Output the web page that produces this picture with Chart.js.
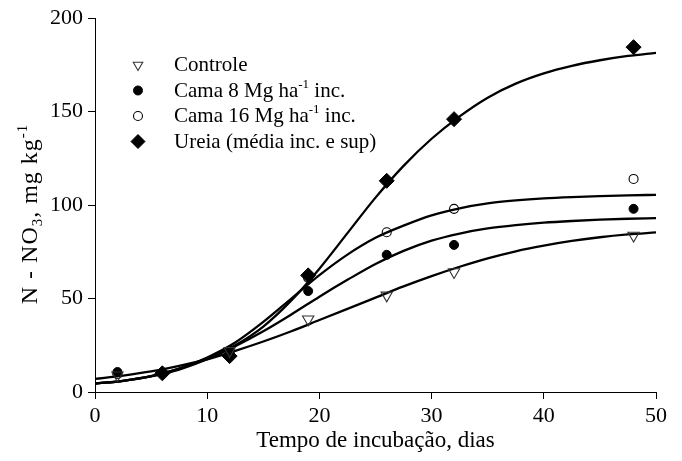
<!DOCTYPE html>
<html>
<head>
<meta charset="utf-8">
<script src="https://cdn.jsdelivr.net/npm/chart.js@4.4.1/dist/chart.umd.min.js"></script>
<style>
  html, body { margin: 0; padding: 0; background: #fff; }
  #wrap { width: 682px; height: 461px; }
</style>
</head>
<body>
<div id="wrap"><canvas id="c" width="682" height="461"></canvas></div>
<script>
// Tick values of both axes
const xTicks = [0, 10, 20, 30, 40, 50];
const yTicks = [0, 50, 100, 150, 200];

// Observed nitrate (N-NO3, mg/kg) by incubation day
const controleDays = [2, 12, 19, 26, 32, 48];
const controleObs  = [9, 22, 38.9, 51.7, 64.2, 83.7];
const cama8Days    = [2, 12, 19, 26, 32, 48];
const cama8Obs     = [10.7, 21.5, 54, 73.4, 78.7, 98];
const cama16Days   = [2, 12, 19, 26, 32, 48];
const cama16Obs    = [9.5, 22, 61, 85.5, 98, 114];
const ureiaDays    = [6, 12, 19, 26, 32, 48];
const ureiaObs     = [10, 19.2, 62.4, 113, 146, 184.5];

// Fitted curves, sampled along the incubation period
const fitDays      = [0, 2.5, 5, 7.5, 10, 12.5, 15, 17.5, 20, 22.5, 25, 27.5, 30, 32.5, 35, 37.5, 40, 42.5, 45, 47.5, 50];
const controleFit  = [7, 8.8, 11, 14, 17.5, 22, 27, 32.5, 38.5, 44.5, 50.5, 56.5, 62, 67, 71.5, 75.3, 78.3, 80.8, 82.8, 84.3, 85.4];
const cama8Fit     = [4.5, 6, 8.3, 12, 17.5, 24.5, 32.5, 41.5, 51, 60, 68.5, 75.5, 81, 84.8, 87.5, 89.3, 90.6, 91.5, 92.2, 92.7, 93];
const cama16Fit    = [4.5, 6, 8.5, 12.5, 18.5, 26.5, 37.5, 50, 62.5, 73.5, 82.5, 89, 94.5, 98.3, 100.9, 102.5, 103.6, 104.3, 104.8, 105.2, 105.5];
const ureiaFit     = [4.5, 6, 8.5, 12.5, 18, 25, 35, 49, 66, 85, 104, 121, 135.5, 147.5, 157.5, 165, 170.5, 174.5, 177.5, 179.8, 181.5];

// Legend entries: [text, superscript, text after]
const legendEntries = [
  ['Controle', '', ''],
  ['Cama 8 Mg ha', '-1', ' inc.'],
  ['Cama 16 Mg ha', '-1', ' inc.'],
  ['Ureia (média inc. e sup)', '', '']
];

const SERIF = '"Liberation Serif", "Times New Roman", serif';

function pts(xs, ys) { return xs.map((x, i) => ({ x: x, y: ys[i] })); }

function fitLine(ys) {
  return {
    data: pts(fitDays, ys),
    showLine: true,
    borderColor: '#000',
    borderWidth: 2.3,
    pointRadius: 0,
    cubicInterpolationMode: 'monotone',
    fill: false,
    order: 2
  };
}

const markerStyles = [
  { pointStyle: 'triangle', rotation: 180, pointRadius: 6.5, backgroundColor: 'rgba(0,0,0,0)', borderColor: '#333', pointBorderWidth: 1.1 },
  { pointStyle: 'circle', rotation: 0, pointRadius: 4.5, backgroundColor: '#000', borderColor: '#000', pointBorderWidth: 1 },
  { pointStyle: 'circle', rotation: 0, pointRadius: 4.5, backgroundColor: 'rgba(0,0,0,0)', borderColor: '#000', pointBorderWidth: 1.1 },
  { pointStyle: 'rectRot', rotation: 0, pointRadius: 7.5, backgroundColor: '#000', borderColor: '#000', pointBorderWidth: 1 }
];

function obsSet(xs, ys, m) {
  return {
    data: pts(xs, ys),
    showLine: false,
    pointStyle: m.pointStyle,
    rotation: m.rotation,
    pointRadius: m.pointRadius,
    pointBackgroundColor: m.backgroundColor,
    pointBorderColor: m.borderColor,
    pointBorderWidth: m.pointBorderWidth,
    order: 1
  };
}

// Draws text with optional super/subscript parts; returns width drawn
function richText(ctx, parts, x, y, size) {
  let cx = x;
  for (const p of parts) {
    const fs = p.script ? size * 0.62 : size;
    ctx.font = fs + 'px ' + SERIF;
    const dy = p.script === 'sup' ? -size * 0.42 : (p.script === 'sub' ? size * 0.22 : 0);
    ctx.fillText(p.t, cx, y + dy);
    cx += ctx.measureText(p.t).width;
  }
  return cx - x;
}
function richWidth(ctx, parts, size) {
  let w = 0;
  for (const p of parts) {
    ctx.font = (p.script ? size * 0.62 : size) + 'px ' + SERIF;
    w += ctx.measureText(p.t).width;
  }
  return w;
}

function drawMarker(ctx, m, x, y, r) {
  ctx.save();
  ctx.lineWidth = m.pointBorderWidth;
  ctx.strokeStyle = m.borderColor;
  ctx.fillStyle = m.backgroundColor;
  ctx.beginPath();
  if (m.pointStyle === 'circle') {
    ctx.arc(x, y, r, 0, Math.PI * 2);
  } else if (m.pointStyle === 'triangle') {
    const h = r * 1.5, w = r * Math.sqrt(3);
    ctx.moveTo(x - w / 2, y - h / 3);
    ctx.lineTo(x + w / 2, y - h / 3);
    ctx.lineTo(x, y + 2 * h / 3);
    ctx.closePath();
  } else {
    ctx.moveTo(x, y - r); ctx.lineTo(x + r, y); ctx.lineTo(x, y + r); ctx.lineTo(x - r, y); ctx.closePath();
  }
  ctx.fill();
  ctx.stroke();
  ctx.restore();
}

const annotations = {
  id: 'annotations',
  afterDraw(chart) {
    const ctx = chart.ctx;
    const area = chart.chartArea;
    ctx.save();
    ctx.fillStyle = '#000';
    ctx.textBaseline = 'alphabetic';
    ctx.textAlign = 'left';

    // x axis title
    const xt = [{ t: 'Tempo de incubação, dias' }];
    const xw = richWidth(ctx, xt, 23);
    richText(ctx, xt, (area.left + area.right) / 2 - xw / 2, 447, 23);

    // y axis title
    const yt = [{ t: 'N - NO' }, { t: '3', script: 'sub' }, { t: ', mg kg' }, { t: '-1', script: 'sup' }];
    ctx.save();
    ctx.letterSpacing = '1px';
    const yw = richWidth(ctx, yt, 24);
    ctx.translate(37, 214);
    ctx.rotate(-Math.PI / 2);
    richText(ctx, yt, -yw / 2, 0, 24);
    ctx.restore();

    // legend
    const rowY = [71, 96.5, 122, 147.5];
    const sizes = [5.5, 4.5, 4.5, 7];
    legendEntries.forEach((e, i) => {
      drawMarker(ctx, markerStyles[i], 138, rowY[i] - 6, sizes[i]);
      const parts = [{ t: e[0] }];
      if (e[1]) parts.push({ t: e[1], script: 'sup' });
      if (e[2]) parts.push({ t: e[2] });
      ctx.fillStyle = '#000';
      richText(ctx, parts, 174, rowY[i], 21);
    });
    ctx.restore();
  }
};

new Chart(document.getElementById('c'), {
  type: 'scatter',
  data: {
    datasets: [
      fitLine(controleFit), fitLine(cama8Fit), fitLine(cama16Fit), fitLine(ureiaFit),
      obsSet(controleDays, controleObs, markerStyles[0]),
      obsSet(cama8Days, cama8Obs, markerStyles[1]),
      obsSet(cama16Days, cama16Obs, markerStyles[2]),
      obsSet(ureiaDays, ureiaObs, markerStyles[3])
    ]
  },
  options: {
    responsive: false,
    animation: false,
    devicePixelRatio: 1,
    layout: { padding: { top: 17, right: 26, left: 0, bottom: 0 } },
    plugins: { legend: { display: false }, tooltip: { enabled: false } },
    scales: {
      x: {
        type: 'linear', min: 0, max: 50,
        afterBuildTicks(s) { s.ticks = xTicks.map(v => ({ value: v })); },
        afterFit(s) { s.height = 69; },
        grid: { display: true, drawOnChartArea: false, drawTicks: true, tickLength: 7, color: '#000', lineWidth: 1 },
        border: { display: true, color: '#000', width: 1 },
        ticks: { color: '#000', padding: 4, maxRotation: 0, font: { family: SERIF, size: 22 } }
      },
      y: {
        type: 'linear', min: 0, max: 200,
        afterBuildTicks(s) { s.ticks = yTicks.map(v => ({ value: v })); },
        afterFit(s) { s.width = 95; },
        grid: { display: true, drawOnChartArea: false, drawTicks: true, tickLength: 7, color: '#000', lineWidth: 1 },
        border: { display: true, color: '#000', width: 1 },
        ticks: { color: '#000', padding: 5, font: { family: SERIF, size: 22 } }
      }
    }
  },
  plugins: [annotations]
});
</script>
</body>
</html>
